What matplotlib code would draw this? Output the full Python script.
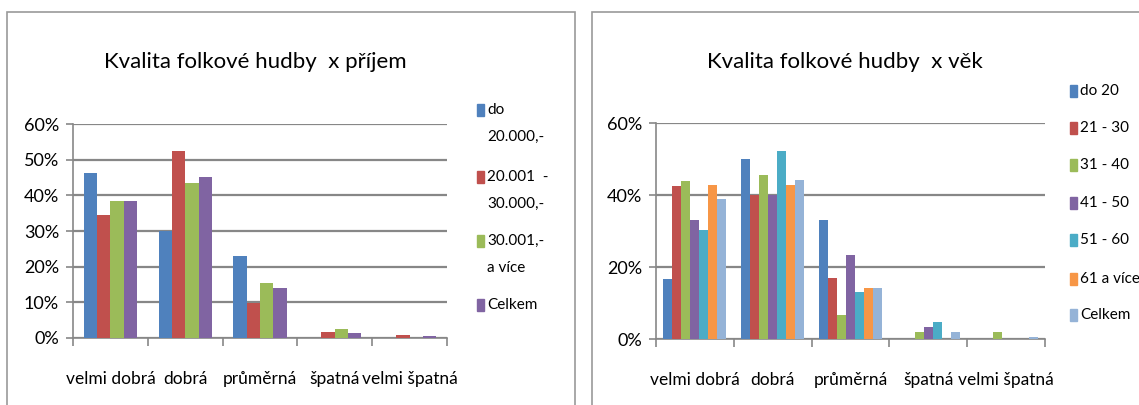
import numpy as np
import matplotlib
matplotlib.use("Agg")
import matplotlib.pyplot as plt
from matplotlib.patches import Rectangle

plt.rcParams['font.family'] = ['Lato', 'DejaVu Sans']

# data
categories = ["velmi dobrá", "dobrá", "průměrná", "špatná", "velmi špatná"]

income_labels = [["do", "20.000,-"], ["20.001  -", "30.000,-"], ["30.001,-", "a více"], ["Celkem"]]
income_do20k = [46.4, 30.1, 23.0, 0.0, 0.0]
income_20_30k = [34.5, 52.3, 9.7, 1.7, 0.9]
income_30k_plus = [38.3, 43.4, 15.4, 2.5, 0.0]
income_total = [38.3, 45.1, 14.1, 1.3, 0.5]

age_labels = [["do 20"], ["21 - 30"], ["31 - 40"], ["41 - 50"], ["51 - 60"], ["61 a více"], ["Celkem"]]
age_do20 = [16.6, 49.9, 33.1, 0.0, 0.0]
age_21_30 = [42.4, 40.0, 17.0, 0.0, 0.0]
age_31_40 = [43.8, 45.5, 6.8, 1.9, 1.9]
age_41_50 = [33.1, 40.0, 23.2, 3.2, 0.0]
age_51_60 = [30.4, 52.2, 13.1, 4.6, 0.0]
age_61plus = [42.9, 42.9, 14.3, 0.0, 0.0]
age_total = [38.9, 44.2, 14.3, 1.9, 0.5]

income_yticks = [0, 10, 20, 30, 40, 50, 60]
age_yticks = [0, 20, 40, 60]

blue, red, green, purple = "#4F81BD", "#C0504D", "#9BBB59", "#8064A2"
teal, orange, lblue = "#4BACC6", "#F79646", "#95B3D7"
grid_c = "#878787"

W, H = 1139, 405
fig = plt.figure(figsize=(W / 100, H / 100), dpi=100)


def fx(px):
    return px / W


def fy(py):
    return 1 - py / H


# panel frames
for x0, x1 in [(7, 575), (592, 1150)]:
    fig.patches.append(Rectangle((fx(x0), fy(420)), fx(x1 - x0), fy(12) - fy(420),
                                 transform=fig.transFigure, fill=False,
                                 edgecolor="#9A9A9A", linewidth=1.2))


def draw_chart(rect, series, colors, bar_w, yticks, title, title_x, legend_x, legend_ys, labels):
    ax = fig.add_axes(rect)
    n = len(series)
    x = np.arange(len(categories))
    for i, (vals, c) in enumerate(zip(series, colors)):
        ax.bar(x + (i - (n - 1) / 2) * bar_w, vals, width=bar_w, color=c, zorder=3)
    ax.set_xlim(-0.5, len(categories) - 0.5)
    ax.set_ylim(0, yticks[-1])
    ax.set_yticks(yticks)
    ax.set_yticklabels([f"{t}%" for t in yticks], fontsize=13)
    ax.yaxis.grid(True, color=grid_c, linewidth=1.6, zorder=0)
    ax.set_xticks(np.arange(len(categories) + 1) - 0.5)
    ax.set_xticklabels([])
    ax.set_xticks(x, minor=True)
    ax.set_xticklabels(categories, minor=True, fontsize=12.5)
    ax.tick_params(axis="x", which="minor", length=0, pad=24)
    ax.tick_params(axis="x", which="major", length=6, color=grid_c, width=1.2)
    ax.tick_params(axis="y", length=5, color=grid_c, width=1.2, pad=5)
    for s in ["top", "right"]:
        ax.spines[s].set_visible(False)
    for s in ["left", "bottom"]:
        ax.spines[s].set_color(grid_c)
        ax.spines[s].set_linewidth(1.2)
    fig.text(fx(title_x), fy(62), title, ha="center", va="center", fontsize=16)
    # legend
    for lab, c, ly in zip(labels, colors, legend_ys):
        fig.patches.append(Rectangle((fx(legend_x), fy(ly + 6)), fx(7), fy(ly - 6) - fy(ly + 6),
                                     transform=fig.transFigure, color=c))
        for k, line in enumerate(lab):
            fig.text(fx(legend_x + 10), fy(ly + k * 27), line, ha="left", va="center", fontsize=11)
    return ax


draw_chart([fx(73), fy(338), fx(447 - 73), fy(124) - fy(338)],
           [income_do20k, income_20_30k, income_30k_plus, income_total],
           [blue, red, green, purple], 0.178, income_yticks,
           "Kvalita folkové hudby  x příjem", 255, 477, [110, 177, 241, 305], income_labels)

draw_chart([fx(656), fy(339), fx(1045 - 656), fy(123) - fy(339)],
           [age_do20, age_21_30, age_31_40, age_41_50, age_51_60, age_61plus, age_total],
           [blue, red, green, purple, teal, orange, lblue], 0.116, age_yticks,
           "Kvalita folkové hudby  x věk", 845, 1070, [91, 128, 165, 203, 240, 279, 315], age_labels)

fig.savefig("out.png", dpi=100)
